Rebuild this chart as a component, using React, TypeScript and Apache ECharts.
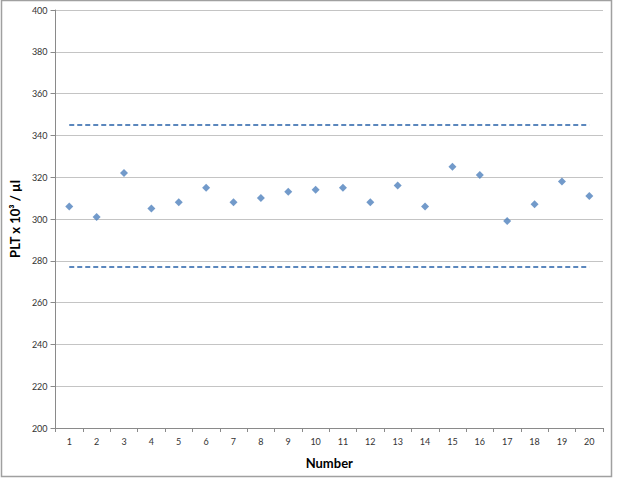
import React, { useEffect, useRef } from "react";
import * as echarts from "echarts";

const categories = ["1","2","3","4","5","6","7","8","9","10","11","12","13","14","15","16","17","18","19","20"];
const pltValues = [306, 301, 322, 305, 308, 315, 308, 310, 313, 314, 315, 308, 316, 306, 325, 321, 299, 307, 318, 311];
const upperLimit = 345;
const lowerLimit = 277;
const yMin = 200;
const yMax = 400;
const yInterval = 20;

const FONT = "Lato, 'Open Sans', sans-serif";
const BLUE = "#4f81bd";

export default function App() {
  const ref = useRef<HTMLDivElement>(null);
  useEffect(() => {
    if (!ref.current) return;
    const chart = echarts.init(ref.current, undefined, { renderer: "svg" });
    chart.setOption({
      animation: false,
      backgroundColor: "#ffffff",
      textStyle: { fontFamily: FONT },
      graphic: [
        {
          type: "rect",
          shape: { x: 1.5, y: 0.5, width: 610, height: 476 },
          style: { fill: "none", stroke: "#a0a0a0", lineWidth: 1.5 },
          silent: true,
        },
      ],
      grid: { left: 53, right: 37, top: 10, bottom: 52, containLabel: false },
      xAxis: {
        type: "category",
        data: categories,
        boundaryGap: true,
        name: "Number",
        nameLocation: "middle",
        nameGap: 28,
        nameTextStyle: { fontFamily: FONT, fontSize: 13, fontWeight: "bold", color: "#000" },
        axisLine: { lineStyle: { color: "#8a8a8a", width: 1 } },
        axisTick: { show: true, length: 4, lineStyle: { color: "#8a8a8a" } },
        axisLabel: { fontFamily: FONT, fontSize: 9, color: "#333", margin: 9 },
        splitLine: { show: false },
      },
      yAxis: {
        type: "value",
        min: yMin,
        max: yMax,
        interval: yInterval,
        name: "PLT x 10³ / µl",
        nameLocation: "middle",
        nameGap: 33,
        nameTextStyle: { fontFamily: FONT, fontSize: 13, fontWeight: "bold", color: "#000" },
        axisLine: { show: true, lineStyle: { color: "#8a8a8a", width: 1 } },
        axisTick: { show: true, length: 5, lineStyle: { color: "#8a8a8a" } },
        axisLabel: { fontFamily: FONT, fontSize: 9, color: "#333", margin: 8 },
        splitLine: { show: true, lineStyle: { color: "#c4c4c4", width: 1 } },
      },
      series: [
        {
          type: "line",
          data: categories.map(() => upperLimit),
          symbol: "none",
          lineStyle: { color: "#5b87bd", width: 2, type: [5, 3] },
          silent: true,
        },
        {
          type: "line",
          data: categories.map(() => lowerLimit),
          symbol: "none",
          lineStyle: { color: "#5b87bd", width: 2, type: [5, 3] },
          silent: true,
        },
        {
          type: "scatter",
          data: pltValues,
          symbol: "diamond",
          symbolSize: 8,
          itemStyle: { color: BLUE },
        },
      ],
    });
    return () => chart.dispose();
  }, []);
  return (
    <div
      ref={ref}
      style={{ position: "fixed", left: 0, top: 0, width: 640, height: 480, background: "#fff" }}
    />
  );
}
